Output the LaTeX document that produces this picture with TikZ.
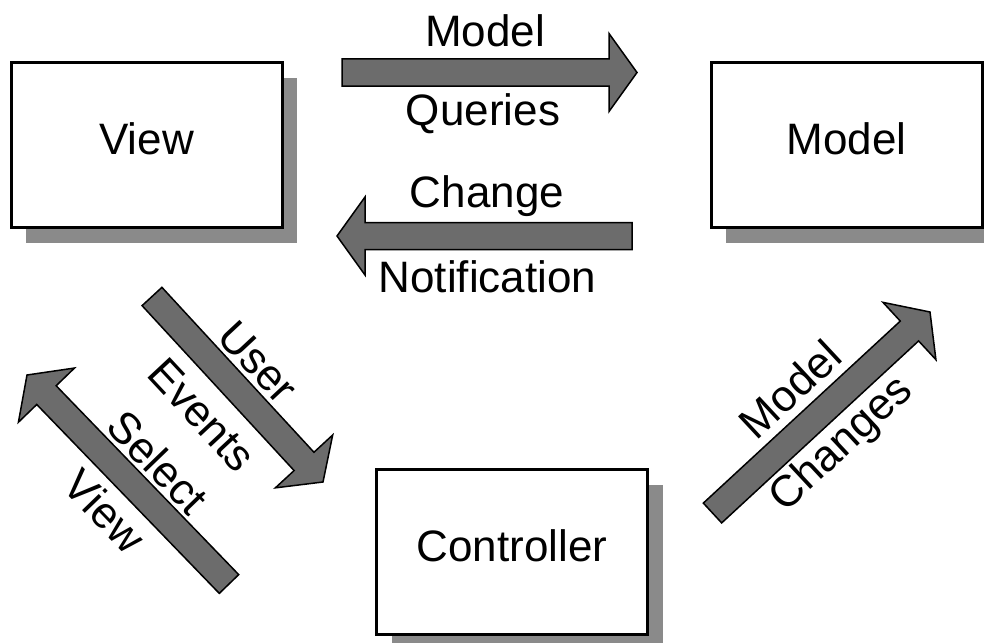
\documentclass[tikz,border=0pt]{standalone}
\usepackage{fontspec}
\setmainfont{Liberation Sans}
\usetikzlibrary{calc,shadows}
\definecolor{arrowgray}{RGB}{108,108,108}
\definecolor{shadowgray}{RGB}{138,138,138}
\newcommand{\blockarr}[2]{%
  \coordinate (#1-b) at ($(#2)!28pt!(#1)$);
  \draw[blockarrow] ($(#1)!13.5pt!90:(#2)$) -- ($(#1-b)!13.5pt!90:(#2)$) -- ($(#1-b)!39pt!90:(#2)$) -- (#2) -- ($(#1-b)!39pt!-90:(#2)$) -- ($(#1-b)!13.5pt!-90:(#2)$) -- ($(#1)!13.5pt!-90:(#2)$) -- cycle;}
\begin{document}
\begin{tikzpicture}[x=1pt,y=-1pt,
  box/.style={draw, line width=3pt, fill=white, minimum width=271pt, minimum height=165pt,
    inner sep=0pt, text height=32pt, text depth=12pt, font=\fontsize{44}{52}\selectfont,
    drop shadow={shadow xshift=15pt, shadow yshift=-16pt, fill=shadowgray, opacity=1, draw=none}},
  lbl/.style={font=\fontsize{44}{52}\selectfont, inner sep=0pt},
  blockarrow/.style={draw=black, line width=1.5pt, fill=arrowgray, line join=miter}]
\useasboundingbox (0,0) rectangle (984,642);
\clip (0,0) rectangle (984,642);
\fill[white] (0,0) rectangle (984,642);
% boxes
\node[box] (view) at (146.5,144.5) {View};
\node[box] (model) at (846.5,144.5) {Model};
\node[box] (ctrl) at (512,551.5) {Controller};
% arrow end points
\coordinate (mqT) at (342,72.5);  \coordinate (mqH) at (637,72.5);
\coordinate (cnT) at (632,236);   \coordinate (cnH) at (337,236);
\coordinate (ueT) at (152,296.5); \coordinate (ueH) at (323,482);
\coordinate (svT) at (229,584);   \coordinate (svH) at (27,375);
\coordinate (mcT) at (712.5,513); \coordinate (mcH) at (930,312);
\blockarr{mqT}{mqH}
\blockarr{cnT}{cnH}
\blockarr{ueT}{ueH}
\blockarr{svT}{svH}
\blockarr{mcT}{mcH}
% labels
\node[lbl, anchor=base] (mq1) at (485,47) {Model};
\node[lbl, anchor=base] (mq2) at (483,125) {Queries};
\node[lbl, anchor=base] (cn1) at (487,207) {Change};
\node[lbl, anchor=base] (cn2) at (487.5,292) {Notification};
\node[lbl, rotate=-47] (ue1) at (258,362) {User};
\node[lbl, rotate=-47] (ue2) at (202,415) {Events};
\node[lbl, rotate=-46] (sv1) at (158,462) {Select};
\node[lbl, rotate=-46] (sv2) at (105,511) {View};
\node[lbl, rotate=43] (mc1) at (790,389) {Model};
\node[lbl, rotate=43] (mc2) at (842,445) {Changes};
\end{tikzpicture}
\end{document}
